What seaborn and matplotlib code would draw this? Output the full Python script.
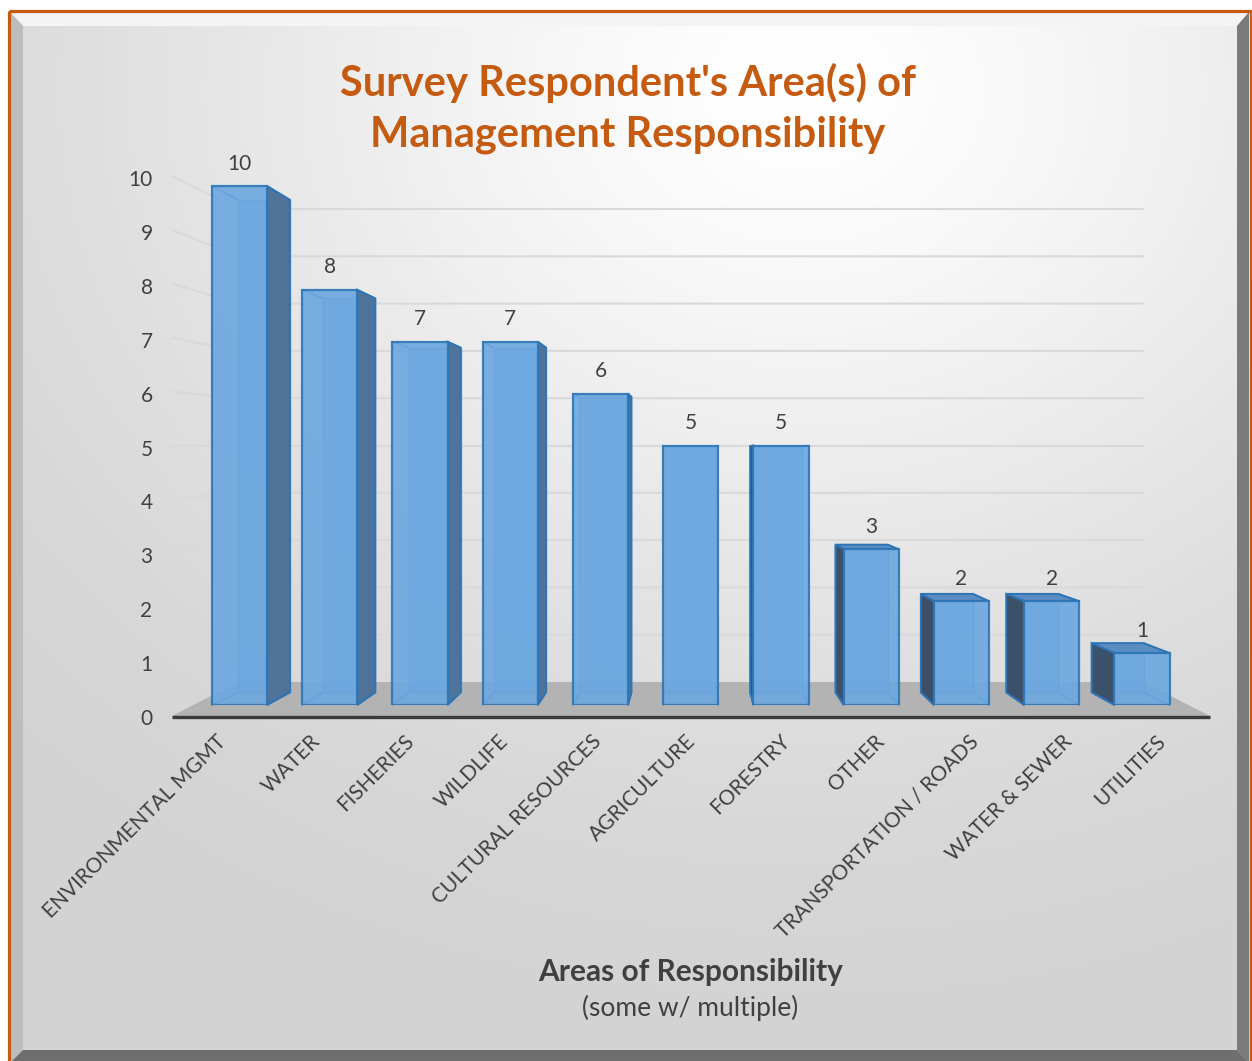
import numpy as np
import pandas as pd
import matplotlib
matplotlib.use("Agg")
import matplotlib.pyplot as plt
import seaborn as sns
from matplotlib.patches import Polygon, Rectangle
from matplotlib.lines import Line2D
from matplotlib.transforms import ScaledTranslation

# ---- data -------------------------------------------------------------
areas = ["ENVIRONMENTAL MGMT", "WATER", "FISHERIES", "WILDLIFE",
         "CULTURAL RESOURCES", "AGRICULTURE", "FORESTRY", "OTHER",
         "TRANSPORTATION / ROADS", "WATER & SEWER", "UTILITIES"]
counts = [10, 8, 7, 7, 6, 5, 5, 3, 2, 2, 1]
y_ticks = list(range(0, 11))

title_lines = ["Survey Respondent's Area(s) of", "Management Responsibility"]
x_title = "Areas of Responsibility"
x_subtitle = "(some w/ multiple)"

# ---- styling ----------------------------------------------------------
W, H, DPI = 1252, 1061, 100
ORANGE = "#C55A11"
TEXT = "#404040"
FRONT = "#6ba7df"
EDGE = "#2e75b6"
SIDE_R = "#4f7399"
SIDE_L = "#3b5069"
TOP = "#5b8cc2"
GRID = "#d9d9d9"
LABEL_SIZE = 15

sns.set_theme(style="white")
plt.rcParams["font.family"] = ["Lato", "DejaVu Sans"]

fig = plt.figure(figsize=(W / DPI, H / DPI), dpi=DPI)


def fig_rect(left, top, right, bottom):
    """Axes rectangle from pixel edges (origin top-left)."""
    return [left / W, 1 - bottom / H, (right - left) / W, (bottom - top) / H]


# ---- canvas in pixel units: background, frame, floor, walls -------------
bg = fig.add_axes([0, 0, 1, 1])
bg.axis("off")

yy, xx = np.mgrid[0:H, 0:W]
r = np.clip(np.hypot(xx - 800, (yy - 90) * 1.2) / 1150, 0, 1)
shade = 1 - 0.17 * (r * r * (3 - 2 * r)) ** 0.8
shade[(xx < 9) | (yy < 11)] = 1.0
bg.imshow(np.dstack([shade] * 3), extent=(0, W, H, 0),
          aspect="auto", interpolation="bilinear", zorder=0)
bg.set_xlim(0, W)
bg.set_ylim(H, 0)

# bevelled frame
bevels = [
    ([(10, 12), (1249, 12), (1237, 26), (23, 26)], "#f4f4f4"),
    ([(10, 12), (23, 26), (23, 1050), (10, 1063)], "#bdbdbd"),
    ([(1249, 12), (1249, 1063), (1237, 1050), (1237, 26)], "#7b7b7b"),
    ([(10, 1063), (1249, 1063), (1237, 1050), (23, 1050)], "#6e6e6e"),
]
for pts, col in bevels:
    bg.add_patch(Polygon(pts, closed=True, facecolor=col, edgecolor="none", zorder=1))
bg.add_patch(Rectangle((9, 11), 1242, 1060, facecolor="none", edgecolor=ORANGE,
                       linewidth=2.3, zorder=2))

# plot geometry (pixels)
AX_X0, AX_Y0 = 172, 717        # front y axis: value 0
AX_STEP = 53.9                 # front y axis px per unit
WALL_X0, WALL_X1 = 238, 1143   # back wall horizontal extent
WALL_Y0, WALL_STEP = 682, 47.3 # back wall px per unit
FLOOR_RIGHT = 1210

# floor
bg.add_patch(Polygon([(AX_X0, AX_Y0 - 1), (WALL_X0, WALL_Y0), (WALL_X1, WALL_Y0),
                      (FLOOR_RIGHT, AX_Y0 - 1)], closed=True,
                     facecolor="#b3b3b3", edgecolor="none", zorder=3))
bg.add_line(Line2D([AX_X0, FLOOR_RIGHT], [AX_Y0, AX_Y0], color="#3a3a3a",
                   linewidth=2.4, solid_capstyle="butt", zorder=4))

# gridlines on back wall + side wall
for v in y_ticks[1:]:
    yb = WALL_Y0 - WALL_STEP * v
    yf = AX_Y0 - AX_STEP * v
    bg.add_line(Line2D([AX_X0, WALL_X0, WALL_X1], [yf - 2, yb, yb],
                       color=GRID, linewidth=1.5, zorder=3))

# ---- bars (front faces) -------------------------------------------------
BAR_C0, BAR_STEP = 239.5, 90.25   # centre of first bar, spacing (px)
BAR_BASE, BAR_UNIT = 705, 51.9    # front-face baseline and px per unit
YMAX = 11
ax = fig.add_axes(fig_rect(BAR_C0 - BAR_STEP / 2, BAR_BASE - BAR_UNIT * YMAX,
                           BAR_C0 + BAR_STEP * (len(areas) - 0.5), BAR_BASE))
ax.patch.set_visible(False)

df = pd.DataFrame({"area": areas, "count": counts})
sns.barplot(data=df, x="area", y="count", order=areas, ax=ax, width=0.61,
            color=FRONT, saturation=1, alpha=0.9, edgecolor=EDGE, linewidth=1.6,
            zorder=5)
ax.set_xlim(-0.5, len(areas) - 0.5)
ax.set_ylim(0, YMAX)
ax.set_xlabel("")
ax.set_ylabel("")
ax.set_yticks([])
for s in ax.spines.values():
    s.set_visible(False)

# value labels
ax.bar_label(ax.containers[0], labels=[str(c) for c in counts], padding=9,
             fontsize=LABEL_SIZE, color=TEXT)

# perspective centre and depth scale
VX, VY = 691, 458
SX, SY = 0.946, 0.949

# category labels (sit on the front plane, so they spread slightly outward)
ax.set_xticks(range(len(areas)))
ax.set_xticklabels(areas, rotation=45, ha="right", va="center",
                   rotation_mode="anchor", fontsize=LABEL_SIZE, color=TEXT)
ax.tick_params(axis="x", length=0, pad=24)
for i, lab in enumerate(ax.get_xticklabels()):
    cx = BAR_C0 + BAR_STEP * i
    dx = 0.042 * (cx - VX) + 2
    lab.set_transform(lab.get_transform() +
                      ScaledTranslation(dx / DPI, 0, fig.dpi_scale_trans))


# ---- depth faces of each bar ---------------------------------------------
def to_px(x, y):
    return bg.transData.inverted().transform(ax.transData.transform((x, y)))


def recede(p):
    return (VX + SX * (p[0] - VX), VY + SY * (p[1] - VY))


for patch in ax.patches:
    x0, w, hgt = patch.get_x(), patch.get_width(), patch.get_height()
    flt, frt = to_px(x0, hgt), to_px(x0 + w, hgt)
    frb, flb = to_px(x0 + w, 0), to_px(x0, 0)
    blt, brt, brb, blb = map(recede, (flt, frt, frb, flb))
    cx = (flt[0] + frt[0]) / 2
    # back outline
    bg.add_patch(Polygon([blt, brt, brb, blb], closed=True, facecolor=FRONT,
                         alpha=0.6, edgecolor=EDGE, linewidth=1.0, zorder=5))
    if flt[1] > blt[1] + 0.5:
        bg.add_patch(Polygon([flt, frt, brt, blt], closed=True, facecolor=TOP,
                             edgecolor=EDGE, linewidth=1.4, zorder=6))
    if cx < VX - 5:
        bg.add_patch(Polygon([frt, brt, brb, frb], closed=True, facecolor=SIDE_R,
                             edgecolor=EDGE, linewidth=1.4, zorder=6))
    elif cx > VX + 5:
        bg.add_patch(Polygon([flt, blt, blb, flb], closed=True, facecolor=SIDE_L,
                             edgecolor=EDGE, linewidth=1.4, zorder=6))
    for a, b in ((flt, blt), (frt, brt), (frb, brb), (flb, blb)):
        bg.add_line(Line2D([a[0], b[0]], [a[1], b[1]], color=EDGE,
                           linewidth=1.0, zorder=6))

# ---- front value axis ----------------------------------------------------
ay = fig.add_axes(fig_rect(AX_X0, AX_Y0 - AX_STEP * 10, AX_X0 + 1, AX_Y0))
ay.patch.set_visible(False)
ay.set_ylim(0, 10)
ay.set_yticks(y_ticks)
ay.set_yticklabels([str(t) for t in y_ticks], fontsize=LABEL_SIZE, color=TEXT)
ay.tick_params(axis="y", length=0, pad=14)
ay.set_xticks([])
for s in ay.spines.values():
    s.set_visible(False)

# ---- titles ----------------------------------------------------------------
fig.text(628 / W, 1 - 83 / H, title_lines[0], ha="center", va="center",
         fontsize=30, fontweight="bold", color=ORANGE)
fig.text(628 / W, 1 - 135 / H, title_lines[1], ha="center", va="center",
         fontsize=30, fontweight="bold", color=ORANGE)
fig.text(691 / W, 1 - 972 / H, x_title, ha="center", va="center",
         fontsize=21.5, fontweight="bold", color=TEXT)
fig.text(690 / W, 1 - 1008 / H, x_subtitle, ha="center", va="center",
         fontsize=19, color=TEXT)

fig.savefig("out.png", dpi=DPI)
